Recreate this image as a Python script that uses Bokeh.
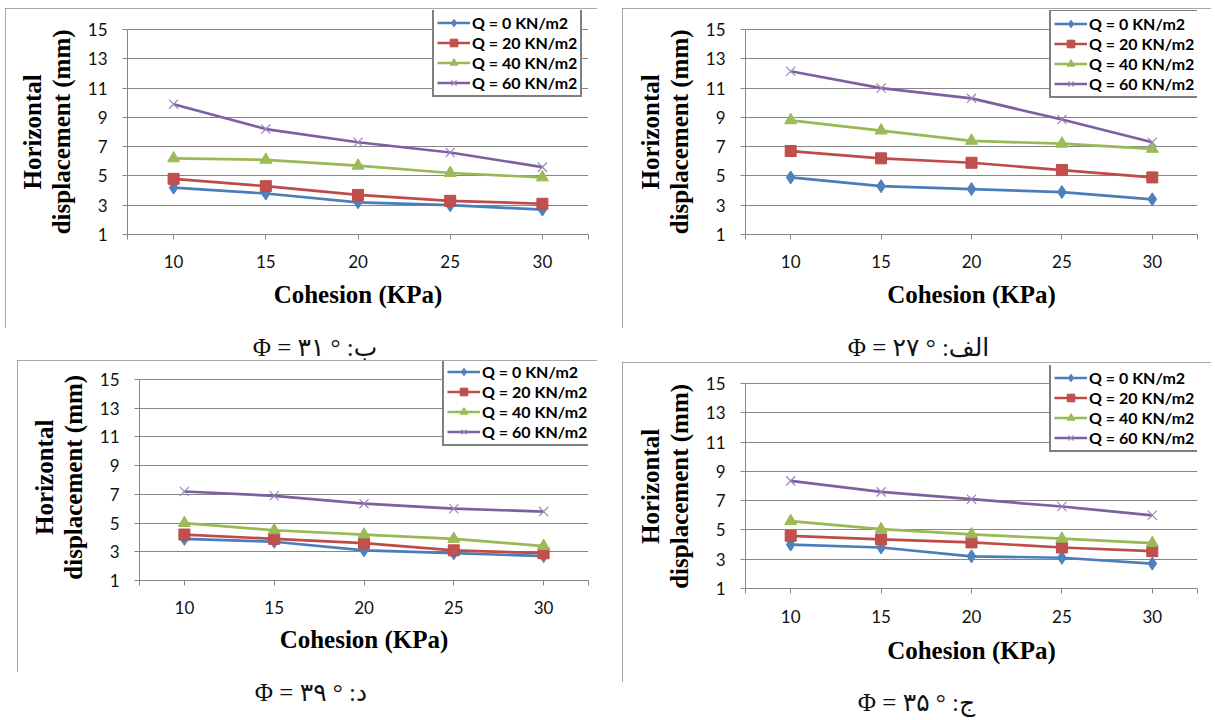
from bokeh.plotting import figure
from bokeh.models import Legend, LegendItem, FixedTicker, Div, Range1d
from bokeh.layouts import column, row
from bokeh.embed import file_html
from bokeh.resources import INLINE

# ---------------- data ----------------
cohesion = [10, 15, 20, 25, 30]
series_names = ["Q = 0 KN/m2", "Q = 20 KN/m2", "Q = 40 KN/m2", "Q = 60 KN/m2"]
y_ticks = [1, 3, 5, 7, 9, 11, 13, 15]

phi31_q0 = [4.2, 3.8, 3.2, 3.0, 2.7]
phi31_q20 = [4.8, 4.3, 3.7, 3.3, 3.1]
phi31_q40 = [6.2, 6.1, 5.7, 5.2, 4.9]
phi31_q60 = [9.9, 8.2, 7.3, 6.6, 5.6]

phi27_q0 = [4.9, 4.3, 4.1, 3.9, 3.4]
phi27_q20 = [6.7, 6.2, 5.9, 5.4, 4.9]
phi27_q40 = [8.8, 8.1, 7.4, 7.2, 6.85]
phi27_q60 = [12.15, 11.0, 10.3, 8.85, 7.3]

phi39_q0 = [3.9, 3.7, 3.1, 2.9, 2.7]
phi39_q20 = [4.2, 3.9, 3.6, 3.1, 2.9]
phi39_q40 = [5.0, 4.5, 4.2, 3.9, 3.4]
phi39_q60 = [7.2, 6.9, 6.35, 6.0, 5.8]

phi35_q0 = [4.0, 3.8, 3.2, 3.1, 2.7]
phi35_q20 = [4.6, 4.35, 4.15, 3.8, 3.55]
phi35_q40 = [5.6, 5.05, 4.7, 4.4, 4.1]
phi35_q60 = [8.35, 7.6, 7.1, 6.6, 6.0]

caption_31 = "Φ = ۳۱ ° :ب"
caption_27 = "Φ = ۲۷ ° :الف"
caption_39 = "Φ = ۳۹ ° :د"
caption_35 = "Φ = ۳۵ ° :ج"

x_title = "Cohesion (KPa)"
y_title_lines = ["Horizontal", "displacement (mm)"]

# ---------------- styles ----------------
LINE_COLORS = ["#4A7EBB", "#BE4B48", "#98B954", "#7D60A0"]
MARK_COLORS = ["#4F81BD", "#C0504D", "#9BBB59", "#9A86BE"]
MARKERS = ["diamond", "square", "triangle", "x"]
MARK_SIZES = [13, 11, 12, 13]
GRID = "#868686"
NBSP = "\u00a0"


def make_panel(series, w, h, left, right, frame_top, grid_top, frame_bottom,
               legend_xy, x_standoff, title_standoff, pad):
    # frame_top / grid_top / frame_bottom are pixel offsets from canvas top
    ppu = (frame_bottom - grid_top) / 14.0
    y_end = 15 + (grid_top - frame_top) / ppu
    p = figure(width=w, height=h, x_range=Range1d(7.5, 32.5), y_range=Range1d(1, y_end),
               output_backend="svg", toolbar_location=None,
               min_border_left=left, min_border_right=right,
               min_border_top=frame_top, min_border_bottom=h - frame_bottom,
               background_fill_color="white", border_fill_color="white")
    p.outline_line_color = None
    p.xgrid.visible = False
    p.ygrid.ticker = FixedTicker(ticks=y_ticks)
    p.ygrid.grid_line_color = GRID
    p.ygrid.grid_line_width = 1

    p.yaxis.ticker = FixedTicker(ticks=y_ticks)
    p.yaxis.bounds = (1, 15)
    p.xaxis.ticker = FixedTicker(ticks=[7.5] + cohesion + [32.5])
    p.xaxis.major_label_overrides = {7.5: "", 32.5: ""}
    for ax in (p.xaxis, p.yaxis):
        ax.axis_line_color = GRID
        ax.major_tick_line_color = GRID
        ax.major_tick_in = 0
        ax.major_tick_out = 5
        ax.minor_tick_line_color = None
        ax.major_label_text_font = "Lato"
        ax.major_label_text_font_size = "17px"
        ax.major_label_text_color = "#111111"
        ax.axis_label_text_font = "Liberation Serif"
        ax.axis_label_text_font_style = "bold"
        ax.axis_label_text_font_size = "25px"
        ax.axis_label_text_color = "#000000"
    p.yaxis.major_label_standoff = 15
    p.xaxis.major_label_standoff = x_standoff
    p.xaxis.axis_label = x_title
    p.yaxis.axis_label = "\n".join(line + NBSP * pad for line in y_title_lines)
    p.xaxis.axis_label_standoff = title_standoff
    p.yaxis.axis_label_standoff = 10
    p.yaxis.axis_label_text_line_height = 1.08

    items = []
    for i, ys in enumerate(series):
        lr = p.line(cohesion, ys, line_color=LINE_COLORS[i], line_width=2.7)
        if MARKERS[i] == "x":
            sr = p.scatter(cohesion, ys, marker="x", size=MARK_SIZES[i],
                           line_color=MARK_COLORS[i], line_width=1.2)
        else:
            sr = p.scatter(cohesion, ys, marker=MARKERS[i], size=MARK_SIZES[i],
                           fill_color=MARK_COLORS[i], line_color=LINE_COLORS[i], line_width=1)
        items.append(LegendItem(label=series_names[i], renderers=[lr, sr]))

    legend = Legend(items=items, location=legend_xy,
                    border_line_color="black", border_line_width=2.5,
                    background_fill_color="white", background_fill_alpha=1.0,
                    label_text_font="Lato", label_text_font_style="bold",
                    label_text_font_size="16px", label_text_color="#000000",
                    glyph_width=33, glyph_height=19, label_height=19,
                    label_standoff=2, padding=3, spacing=1, margin=0)
    p.add_layout(legend)
    p.styles = {"outline": "1px solid #8a8a8a", "outline-offset": "-1px"}
    return p


def make_caption(text, w, h, top, shift):
    html = ('<div style="width:%dpx;height:%dpx;position:relative;">'
            '<div style="position:absolute;left:%dpx;top:%dpx;width:%dpx;text-align:center;'
            "font-family:'Liberation Serif','DejaVu Sans',serif;font-size:25px;line-height:26px;"
            'color:#111;white-space:nowrap;">%s</div></div>') % (w, h, shift, top, w, text)
    return Div(text=html, width=w, height=h, margin=(0, 0, 0, 0))


figA = make_panel([phi31_q0, phi31_q20, phi31_q40, phi31_q60], 592, 320,
                  122, 9, 2, 21, 226, (305, 137), 15, 10, 3)
figB = make_panel([phi27_q0, phi27_q20, phi27_q40, phi27_q60], 589, 320,
                  123, 14, 2, 21, 226, (304, 136), 15, 10, 3)
figC = make_panel([phi39_q0, phi39_q20, phi39_q40, phi39_q60], 580, 312,
                  120, 9, 1, 19, 220, (303, 134), 15, 9, 2)
figD = make_panel([phi35_q0, phi35_q20, phi35_q40, phi35_q60], 589, 320,
                  123, 14, 3, 21, 226, (304, 136), 16, 11, 3)
figA.margin = (0, 0, 0, 0)
figB.margin = (0, 0, 0, 0)
figC.margin = (0, 0, 0, 12)
figD.margin = (0, 0, 0, 0)

capA = make_caption(caption_31, 592, 32, 7, 14)
capB = make_caption(caption_27, 589, 34, 7, 2)
capC = make_caption(caption_39, 592, 38, 8, 10)
capD = make_caption(caption_35, 589, 36, 8, 0)

colL = column(figA, capA, figC, capC, margin=(8, 0, 0, 5), spacing=0)
colR = column(figB, capB, figD, capD, margin=(8, 0, 0, 25), spacing=0)
layout = row(colL, colR, spacing=0)

open("out.html", "w").write(file_html(layout, INLINE))
